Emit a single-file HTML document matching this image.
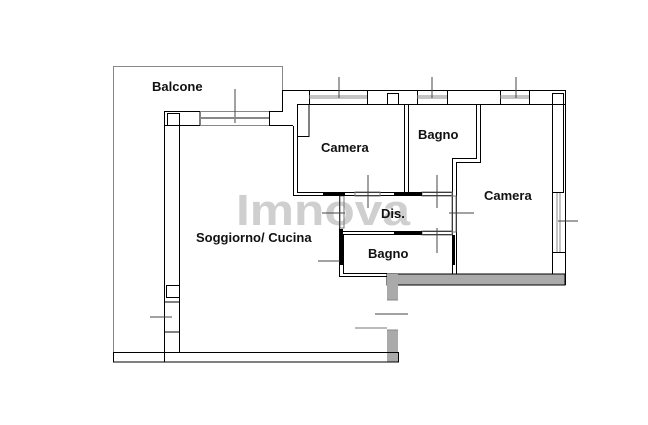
<!DOCTYPE html>
<html><head><style>
html,body{margin:0;padding:0;background:#fff;}
svg{display:block;}
text{font-family:"Liberation Sans",sans-serif;font-weight:bold;fill:#111;font-size:13px;}
</style></head><body>
<svg width="648" height="425" viewBox="0 0 648 425" xmlns="http://www.w3.org/2000/svg">
<text x="236" y="225" style="font-size:44px;fill:#cfcfcf;font-weight:bold;" textLength="174" lengthAdjust="spacingAndGlyphs">Imnova</text>

<rect x="387" y="274" width="178" height="11" fill="#aaa" stroke="#000" stroke-width="1"/>
<rect x="387" y="274" width="11" height="26" fill="#aaa" stroke="none"/>
<rect x="387" y="330" width="11" height="32" fill="#aaa" stroke="none"/>
<line x1="387" y1="300" x2="398" y2="300" stroke="#888"/>
<line x1="387" y1="330" x2="398" y2="330" stroke="#888"/>

<g fill="none" stroke="#000" stroke-width="1">
<polyline points="113.5,352 113.5,66.5 282.5,66.5 282.5,90" stroke="#888"/>
<rect x="113.5" y="352.5" width="285" height="9.5"/>
<line x1="164.5" y1="352" x2="164.5" y2="362"/>
<line x1="164.5" y1="112" x2="164.5" y2="352"/>
<line x1="179.5" y1="126" x2="179.5" y2="352"/>
<rect x="164.5" y="111.5" width="35.5" height="14"/>
<rect x="167.5" y="113.5" width="12" height="12"/>
<rect x="166.5" y="285.5" width="13" height="12"/>
<line x1="164.5" y1="302" x2="179.5" y2="302"/>
<line x1="164.5" y1="332" x2="179.5" y2="332"/>
<line x1="150" y1="317" x2="172" y2="317" stroke="#444"/>
<line x1="200" y1="111.5" x2="269" y2="111.5" stroke="#888"/>
<line x1="200" y1="125.5" x2="269" y2="125.5" stroke="#888"/>
<line x1="235" y1="89" x2="235" y2="123" stroke="#444"/>
<polyline points="269.5,126 269.5,111.5 282.5,111.5 282.5,90.5 309.5,90.5 309.5,104"/>
<polyline points="269.5,125.5 293,125.5"/>
<rect x="297.5" y="104.5" width="11.5" height="32"/>
<line x1="309" y1="90.5" x2="566" y2="90.5"/>
<line x1="309" y1="104.5" x2="552" y2="104.5"/>
<rect x="367.5" y="90.5" width="50" height="14"/>
<rect x="387.5" y="93.5" width="11" height="11"/>
<rect x="447.5" y="90.5" width="53" height="14"/>
<rect x="529.5" y="90.5" width="36" height="14"/>
<line x1="565.5" y1="90" x2="565.5" y2="285"/>
<line x1="552.5" y1="104" x2="552.5" y2="274"/>
<rect x="552.5" y="93.5" width="11" height="99"/>
<line x1="557" y1="193" x2="557" y2="252" stroke="#888"/>
<line x1="560" y1="193" x2="560" y2="252" stroke="#888"/>
<line x1="552" y1="252.5" x2="566" y2="252.5"/>
<line x1="558" y1="221" x2="578" y2="221" stroke="#444"/>
<line x1="293.5" y1="126" x2="293.5" y2="196"/>
<line x1="297.5" y1="137" x2="297.5" y2="192"/>
<line x1="293" y1="195.5" x2="404" y2="195.5"/>
<line x1="297" y1="192.5" x2="404" y2="192.5"/>
<line x1="404.5" y1="104" x2="404.5" y2="196"/>
<line x1="408.5" y1="104" x2="408.5" y2="196"/>
<polyline points="476.5,104 476.5,158.5 452.5,158.5 452.5,274"/>
<polyline points="480.5,104 480.5,162.5 456.5,162.5 456.5,274"/>
<line x1="408" y1="192.5" x2="452" y2="192.5"/>
<line x1="408" y1="195.5" x2="452" y2="195.5"/>
<line x1="339.5" y1="196" x2="339.5" y2="277"/>
<line x1="343.5" y1="235" x2="343.5" y2="273"/>
<line x1="343" y1="231.5" x2="452" y2="231.5"/>
<line x1="343" y1="234.5" x2="452" y2="234.5"/>
<line x1="340" y1="276.5" x2="387" y2="276.5"/>
<line x1="343" y1="273.5" x2="387" y2="273.5"/>
<line x1="318" y1="261" x2="340" y2="261" stroke="#444"/>
<rect x="355" y="192" width="25" height="4" stroke="#777"/>
<rect x="422" y="192" width="30" height="4" stroke="#777"/>
<rect x="422" y="231" width="30" height="4" stroke="#777"/>
<rect x="340" y="196" width="4" height="32" stroke="#777"/>
<rect x="452" y="196" width="4" height="36" stroke="#777"/>
<line x1="368" y1="175" x2="368" y2="208" stroke="#444"/>
<line x1="437" y1="175" x2="437" y2="208" stroke="#444"/>
<line x1="437" y1="228" x2="437" y2="253" stroke="#444"/>
<line x1="322" y1="213" x2="345" y2="213" stroke="#444"/>
<line x1="449" y1="213" x2="474" y2="213" stroke="#444"/>
<line x1="375" y1="314" x2="408" y2="314" stroke="#444"/>
<line x1="355" y1="328" x2="387" y2="328" stroke="#777"/>
<line x1="309" y1="96" x2="367" y2="96" stroke="#888"/>
<line x1="309" y1="98" x2="367" y2="98" stroke="#888"/>
<line x1="417" y1="96" x2="447" y2="96" stroke="#888"/>
<line x1="417" y1="98" x2="447" y2="98" stroke="#888"/>
<line x1="500" y1="96" x2="529" y2="96" stroke="#888"/>
<line x1="500" y1="98" x2="529" y2="98" stroke="#888"/>
<line x1="339" y1="77" x2="339" y2="98" stroke="#444"/>
<line x1="432" y1="77" x2="432" y2="98" stroke="#444"/>
<line x1="516" y1="77" x2="516" y2="98" stroke="#444"/>
<line x1="200" y1="118" x2="269" y2="118" stroke="#888" stroke-width="2"/>
</g>
<rect x="323" y="192" width="22" height="4" fill="#000"/>
<rect x="394" y="192" width="28" height="4" fill="#000"/>
<rect x="394" y="231" width="28" height="4" fill="#000"/>
<rect x="340" y="229" width="3" height="36" fill="#000"/>
<rect x="452" y="235" width="3" height="30" fill="#000"/>

<text x="152" y="91">Balcone</text>
<text x="321" y="152">Camera</text>
<text x="418" y="139">Bagno</text>
<text x="484" y="200">Camera</text>
<text x="381" y="218">Dis.</text>
<text x="196" y="242">Soggiorno/ Cucina</text>
<text x="368" y="258">Bagno</text>
</svg>
</body></html>
